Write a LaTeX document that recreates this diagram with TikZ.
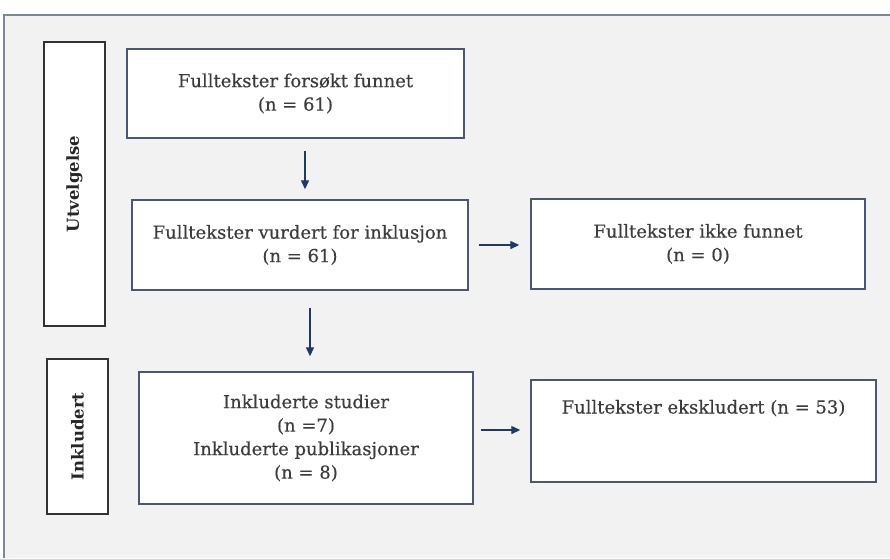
\documentclass[tikz,border=0pt]{standalone}
\usepackage{fontspec}
\setmainfont{DejaVu Serif}
\newfontfamily\boxfont[FakeBold=0.35]{DejaVu Serif}
\usetikzlibrary{arrows.meta,calc}
\definecolor{bgray}{HTML}{F2F2F2}
\definecolor{frameblue}{HTML}{7C879C}
\definecolor{boxline}{HTML}{4A5672}
\definecolor{arrownavy}{HTML}{1F3864}
\definecolor{txt}{HTML}{3C3C3C}
\begin{document}
\begin{tikzpicture}[x=1pt,y=-1pt,
  box/.style={draw=boxline,line width=1.4pt,fill=white,inner sep=0pt,text=txt,
    align=center,font=\boxfont\fontsize{18}{23.5}\selectfont},
  side/.style={draw=black!80,line width=1.4pt,fill=white,inner sep=0pt},
  sidetext/.style={rotate=90,text=black!85,font=\fontsize{16.5}{18}\selectfont\bfseries},
  arr/.style={draw=arrownavy,line width=1.3pt,-{Triangle[length=9pt,width=8pt]}}]
\useasboundingbox (0,0) rectangle (890,558);
\fill[white] (0,0) rectangle (890,558);
\fill[bgray] (4,15) rectangle (890,558);
\draw[frameblue,line width=1.8pt] (4,558) -- (4,15) -- (890,15);
% side labels
\node[side,minimum width=61pt,minimum height=284pt] (s1) at (74.5,184) {};
\node[sidetext] at (s1.center) {Utvelgelse};
\node[side,minimum width=61pt,minimum height=155pt] (s2) at (77.5,436.5) {};
\node[sidetext] at (s2.center) {Inkludert};
% boxes
\node[box,minimum width=337pt,minimum height=89pt] (b1) at (295.5,93.5)
  {Fulltekster forsøkt funnet\\(n = 61)};
\node[box,minimum width=336pt,minimum height=90pt] (b2) at (300,245)
  {Fulltekster vurdert for inklusjon\\(n = 61)};
\node[box,minimum width=334pt,minimum height=90pt] (b3) at (698,244)
  {Fulltekster ikke funnet\\(n = 0)};
\node[box,minimum width=334pt,minimum height=132pt] (b4) at (306,438)
  {Inkluderte studier\\(n =7)\\Inkluderte publikasjoner\\(n = 8)};
\node[box,minimum width=345pt,minimum height=102pt,
  label={[anchor=north,yshift=-17pt,text=txt,font=\boxfont\fontsize{18}{23.5}\selectfont]north:Fulltekster ekskludert (n = 53)}] (b5) at (703.5,431) {};
% arrows
\draw[arr,shorten <=12pt,shorten >=10pt] ([xshift=9.5pt]b1.south) -- ([xshift=9.5pt]b1.south |- b2.north);
\draw[arr,shorten <=10pt,shorten >=11pt] (b2.east) -- (b2.east -| b3.west);
\draw[arr,shorten <=17pt,shorten >=15pt] ([xshift=10pt]b2.south) -- ([xshift=10pt]b2.south |- b4.north);
\draw[arr,shorten <=7pt,shorten >=10pt] ([yshift=8pt]b4.east) -- ([yshift=8pt]b4.east -| b5.west);
\end{tikzpicture}
\end{document}
